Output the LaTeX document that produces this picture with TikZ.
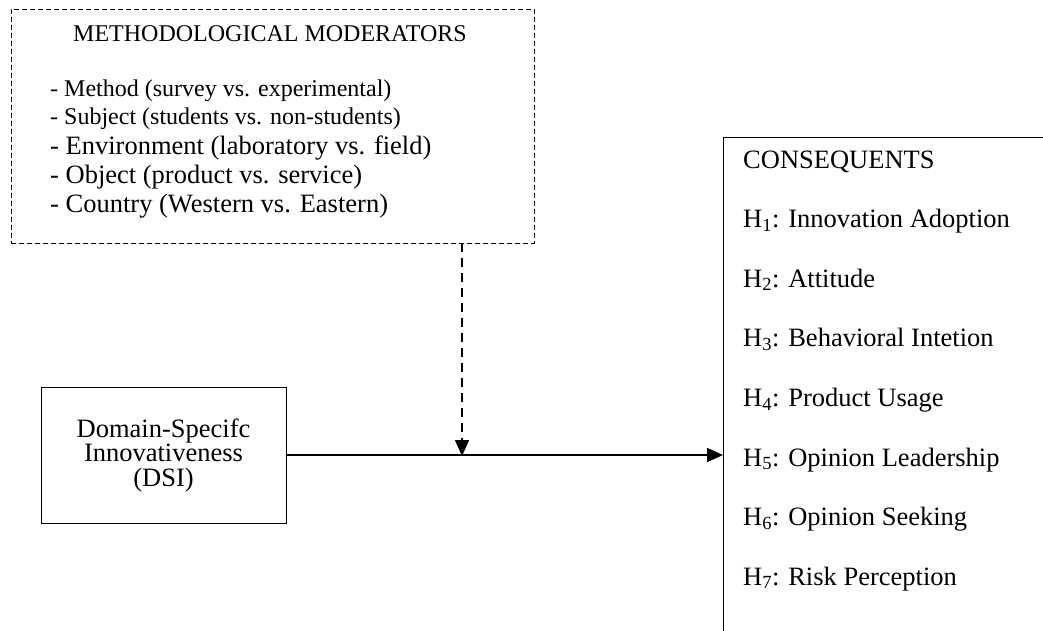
\documentclass[tikz,border=0pt]{standalone}
\usepackage{fontspec}
\setmainfont{Liberation Serif}
\usetikzlibrary{arrows.meta}
\newcommand{\bigsz}{\fontsize{26.5}{24.5}\selectfont}
\newcommand{\smallsz}{\fontsize{24}{24}\selectfont}
\begin{document}
\begin{tikzpicture}[x=1pt,y=-1pt,
  box/.style={draw,line width=0.9pt,inner sep=0pt},
  modbox/.style={draw,line width=0.9pt,dash pattern=on 5pt off 3pt,inner sep=0pt},
  item/.style={anchor=base west,inner sep=0pt},
  link/.style={line width=1.5pt,-{Triangle[length=16pt,width=14pt]}}]
\useasboundingbox (0,0) rectangle (1043,630);
\clip (0,0) rectangle (1043,630);
\node[modbox,minimum width=523pt,minimum height=234pt] (mod) at (272.5,126) {};
\node[anchor=base,inner sep=0pt,font=\smallsz] (title) at (270,41) {METHODOLOGICAL MODERATORS};
\node[item,font=\smallsz] (m1) at (50,96) {- Method (survey vs. experimental)};
\node[item,font=\smallsz] (m2) at (50,124) {- Subject (students vs. non-students)};
\node[item,font=\bigsz] (m3) at (50,154) {- Environment (laboratory vs. field)};
\node[item,font=\bigsz] (m4) at (50,183) {- Object (product vs. service)};
\node[item,font=\bigsz] (m5) at (50,212) {- Country (Western vs. Eastern)};
\node[box,minimum width=245pt,minimum height=136pt,align=center,font=\bigsz] (dsi) at (163.5,455) {Domain-Specifc\\Innovativeness\\(DSI)};
\node[box,anchor=north west,minimum width=400pt,minimum height=600pt] (cons) at (723,137) {};
\node[item,font=\bigsz] (c0) at (743,168) {CONSEQUENTS};
\foreach \i/\txt in {1/Innovation Adoption,2/Attitude,3/Behavioral Intetion,4/Product Usage,5/Opinion Leadership,6/Opinion Seeking,7/Risk Perception}
  \node[item,font=\bigsz] (h\i) at (743,168+59.6*\i) {H\textsubscript{\i}: \txt};
\coordinate (mj) at (462,456);
\draw[link] (dsi.east) -- (dsi.east -| cons.west);
\draw[link,dash pattern=on 9pt off 6pt] (mod.south -| mj) -- (mj);
\end{tikzpicture}
\end{document}
